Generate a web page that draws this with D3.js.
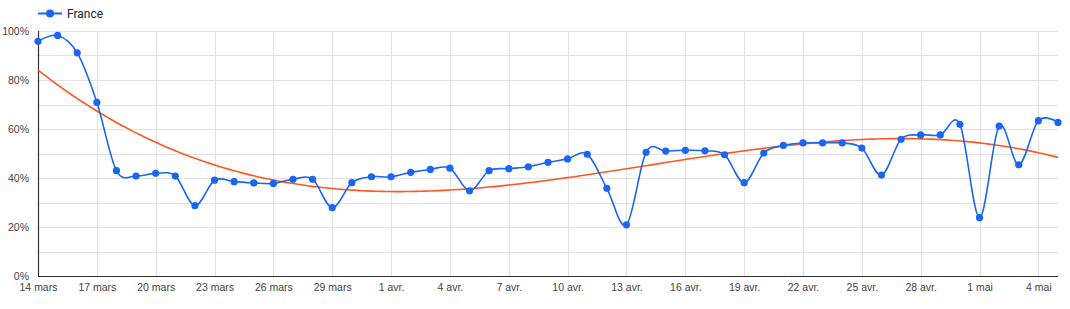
<!DOCTYPE html>
<html>
<head>
<meta charset="utf-8">
<script src="https://cdn.jsdelivr.net/npm/d3@7"></script>
<style>
  body { margin: 0; background: #fff; }
  svg { display: block; font-family: Roboto, Arial, sans-serif; }
  .grid line { stroke: #e2e2e2; stroke-width: 1; }
  .tick text { fill: #444; font-size: 10.5px; }
</style>
</head>
<body>
<svg></svg>
<script>
const size = {w: 1070, h: 309};
const margin = {t: 31, r: 12, b: 33, l: 38};
const canvas = {w: size.w - margin.l - margin.r, h: size.h - margin.t - margin.b};

const seriesName = 'France';
const startDate = '2020-03-14';
// one value per day, 14 mars -> 5 mai (%)
const values = [
  95.8, 98.2, 91.1, 70.9, 43.0, 40.8, 41.9, 40.8, 28.7, 39.1,
  38.5, 38.0, 37.8, 39.5, 39.5, 27.9, 38.1, 40.5, 40.5, 42.3,
  43.5, 44.0, 34.8, 43.0, 43.8, 44.6, 46.4, 47.8, 49.7, 35.8,
  20.9, 50.5, 51.0, 51.3, 51.1, 49.5, 38.1, 50.2, 53.3, 54.3,
  54.3, 54.3, 52.2, 41.2, 55.8, 57.6, 57.6, 61.9, 23.8, 61.2,
  45.4, 63.4, 62.7
];
const yTicks = [0, 10, 20, 30, 40, 50, 60, 70, 80, 90, 100];
const monthNames = ['janv.', 'févr.', 'mars', 'avr.', 'mai', 'juin'];

const blue = '#1a66f2';
const orange = '#ff5722';

const start = new Date(startDate + 'T00:00:00');
const data = values.map((v, i) => ({date: d3.timeDay.offset(start, i), i: i, v: v}));

const svg = d3.select('svg').attr('width', size.w).attr('height', size.h);
const g = svg.append('g').attr('transform', `translate(${margin.l}, ${margin.t})`);

const x = d3.scaleTime()
  .domain(d3.extent(data, d => d.date))
  .range([0, canvas.w]);
const y = d3.scaleLinear().domain([0, 100]).range([canvas.h, 0]);

const xTicks = data.filter(d => d.i % 3 === 0).map(d => d.date);
const fmtDate = d => d.getDate() + ' ' + monthNames[d.getMonth()];

// grid
const grid = g.append('g').classed('grid', true);
grid.selectAll('.h').data(yTicks).join('line')
  .attr('x1', 0).attr('x2', canvas.w)
  .attr('y1', d => Math.round(y(d)) + 0.5).attr('y2', d => Math.round(y(d)) + 0.5);
grid.selectAll('.v').data(xTicks).join('line')
  .attr('x1', d => Math.round(x(d)) + 0.5).attr('x2', d => Math.round(x(d)) + 0.5)
  .attr('y1', 0).attr('y2', canvas.h);

// axes
const axisY = d3.axisLeft(y).tickValues(yTicks.filter(d => d % 20 === 0))
  .tickFormat(d => d + '%').tickSize(0).tickPadding(9);
g.append('g').call(axisY).call(a => a.select('.domain').remove())
  .selectAll('text').attr('dy', '0.35em');

const axisX = d3.axisBottom(x).tickValues(xTicks).tickFormat(fmtDate).tickSize(0).tickPadding(8);
g.append('g').attr('transform', `translate(0, ${canvas.h})`)
  .call(axisX).call(a => a.select('.domain').remove());

g.append('line').attr('x1', 0.5).attr('x2', 0.5).attr('y1', 0).attr('y2', canvas.h)
  .attr('stroke', '#333').attr('stroke-width', 1.2);
g.append('line').attr('x1', 0).attr('x2', canvas.w)
  .attr('y1', canvas.h + 0.5).attr('y2', canvas.h + 0.5)
  .attr('stroke', '#333').attr('stroke-width', 1.2);

// cubic least-squares trend line
function polyFit(xs, ys, deg) {
  const n = deg + 1;
  const A = Array.from({length: n}, () => new Array(n + 1).fill(0));
  xs.forEach((xv, k) => {
    for (let r = 0; r < n; r++) {
      for (let c = 0; c < n; c++) A[r][c] += Math.pow(xv, r + c);
      A[r][n] += ys[k] * Math.pow(xv, r);
    }
  });
  for (let p = 0; p < n; p++) {
    let m = p;
    for (let r = p + 1; r < n; r++) if (Math.abs(A[r][p]) > Math.abs(A[m][p])) m = r;
    [A[p], A[m]] = [A[m], A[p]];
    for (let r = 0; r < n; r++) {
      if (r === p) continue;
      const f = A[r][p] / A[p][p];
      for (let c = p; c <= n; c++) A[r][c] -= f * A[p][c];
    }
  }
  return A.map((row, r) => row[n] / row[r]);
}
const xs = data.map(d => d.i / (data.length - 1));
const coef = polyFit(xs, values, 3);
const trend = d3.range(0, data.length - 1 + 0.001, 0.25).map(t => {
  const u = t / (data.length - 1);
  return {date: new Date(+start + t * 864e5), v: coef.reduce((s, c, k) => s + c * Math.pow(u, k), 0)};
});

g.append('path').datum(trend)
  .attr('fill', 'none').attr('stroke', orange).attr('stroke-width', 1.6)
  .attr('d', d3.line().x(d => x(d.date)).y(d => y(d.v)));

// series
g.append('path').datum(data)
  .attr('fill', 'none').attr('stroke', blue).attr('stroke-width', 1.6)
  .attr('d', d3.line().curve(d3.curveCatmullRom.alpha(0)).x(d => x(d.date)).y(d => y(d.v)));

g.selectAll('.dot').data(data).join('circle')
  .classed('dot', true)
  .attr('cx', d => x(d.date)).attr('cy', d => y(d.v))
  .attr('r', 3.6).attr('fill', blue);

// legend
const legend = svg.append('g').attr('transform', 'translate(38, 13)');
legend.append('line').attr('x1', 0).attr('x2', 24).attr('y1', 0.5).attr('y2', 0.5)
  .attr('stroke', blue).attr('stroke-width', 2);
legend.append('circle').attr('cx', 12).attr('cy', 0.5).attr('r', 4).attr('fill', blue);
legend.append('text').attr('x', 29).attr('y', 0.5).attr('dy', '0.35em')
  .attr('fill', '#222').style('font-size', '12px').text(seriesName);
</script>
</body>
</html>
